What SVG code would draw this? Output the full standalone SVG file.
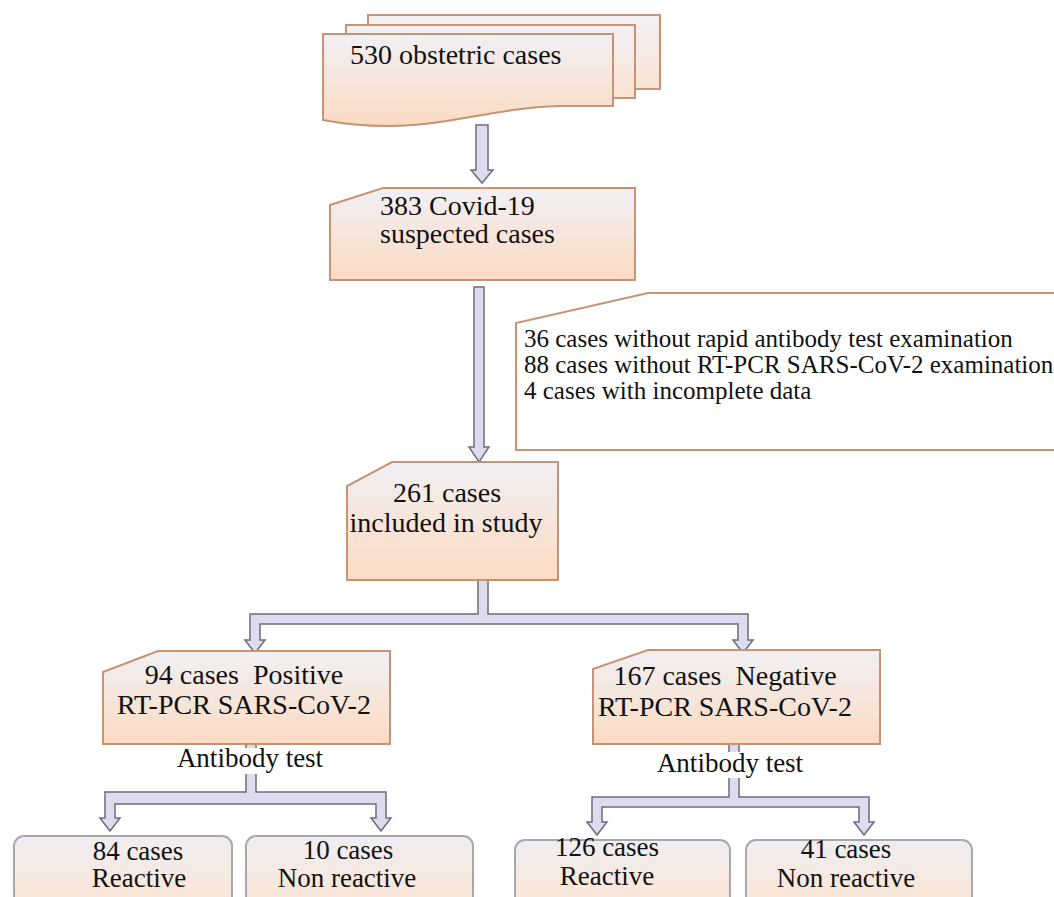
<svg xmlns="http://www.w3.org/2000/svg" width="1054" height="897" viewBox="0 0 1054 897">
<defs>
<linearGradient id="gNode" x1="0" y1="0" x2="0" y2="1">
<stop offset="0" stop-color="#f1f0f4"/>
<stop offset="1" stop-color="#fbdbc2"/>
</linearGradient>
<linearGradient id="gSheet" x1="0" y1="0" x2="0" y2="1">
<stop offset="0" stop-color="#f3f1f4"/>
<stop offset="1" stop-color="#fae3d3"/>
</linearGradient>
<linearGradient id="gLeaf" x1="0" y1="0" x2="0" y2="1">
<stop offset="0" stop-color="#efeef2"/>
<stop offset="1" stop-color="#fce5d3"/>
</linearGradient>
<linearGradient id="gArrow" x1="0" y1="0" x2="1" y2="0">
<stop offset="0" stop-color="#cfcfe6"/>
<stop offset="0.5" stop-color="#e6e6f4"/>
<stop offset="1" stop-color="#c4c4de"/>
</linearGradient>
</defs>
<style>
.node{fill:url(#gNode);stroke:#c69474;stroke-width:2}
.sheet{fill:url(#gSheet);stroke:#c69474;stroke-width:2}
.leaf{fill:url(#gLeaf);stroke:#a7a7b0;stroke-width:2}
.excl{fill:#ffffff;stroke:#c69474;stroke-width:2}
.arrow{fill:#dcdcee;stroke:#6c6c7c;stroke-width:1.5;stroke-linejoin:miter}
.t{font-family:"Liberation Serif","Times New Roman",serif;font-size:28px;fill:#111}
.ts{font-family:"Liberation Serif","Times New Roman",serif;font-size:25px;fill:#111}
.tb{font-family:"Liberation Serif","Times New Roman",serif;font-size:27px;fill:#111}
.c{text-anchor:middle}
</style>
<rect width="1054" height="897" fill="#ffffff"/>

<g id="connectors">
<path class="arrow" d="M476,125 H488 V170 H493 L482,183 L471,170 H476 Z"/>
<path class="arrow" d="M474,287 H484 V447 H489 L479,462 L469,447 H474 Z"/>
<path class="arrow" d="M478,580 H488 V614 H748 V640 H753 L743,653 L733,640 H738 V624 H260 V640 H265 L255,653 L245,640 H250 V614 H478 Z"/>
<path class="arrow" d="M246,744 H256 V792 H386 V818 H391 L381,831 L371,818 H376 V804 H115 V818 H120 L110,831 L100,818 H105 V792 H246 Z"/>
<path class="arrow" d="M729,744 H739 V797 H869 V822 H874 L864,835 L854,822 H859 V807 H602 V822 H607 L597,835 L587,822 H592 V797 H729 Z"/>
</g>

<g id="node-530">
<rect class="sheet" x="368" y="15" width="292" height="74"/>
<rect class="sheet" x="346" y="25" width="289" height="73"/>
<path class="node" d="M323,34 H613 V106 H560 C520,107 490,114 440,122 C400,128 360,127 323,120 Z"/>
<text class="t" x="350" y="64">530 obstetric cases</text>
</g>

<g id="node-383">
<path class="node" d="M383,188 H635 V280 H330 V205 Z"/>
<text class="t" x="380" y="215">383 Covid-19</text>
<text class="t" x="380" y="243">suspected cases</text>
</g>

<g id="node-excluded">
<path class="excl" d="M648,293 H1060 V450 H516 V323 Z"/>
<text class="ts" x="524" y="347">36 cases without rapid antibody test examination</text>
<text class="ts" x="524" y="373">88 cases without RT-PCR SARS-CoV-2 examination</text>
<text class="ts" x="524" y="399">4 cases with incomplete data</text>
</g>

<g id="node-261">
<path class="node" d="M392,462 H558 V580 H347 V486 Z"/>
<text class="t c" x="447" y="502">261 cases</text>
<text class="t c" x="446" y="532">included in study</text>
</g>

<g id="node-positive">
<path class="node" d="M158,651 H390 V744 H103 V672 Z"/>
<text class="t c" x="244" y="684" xml:space="preserve">94 cases  Positive</text>
<text class="t c" x="244" y="714">RT-PCR SARS-CoV-2</text>
</g>

<g id="node-negative">
<path class="node" d="M648,650 H880 V744 H593 V669 Z"/>
<text class="t c" x="725" y="685" xml:space="preserve">167 cases  Negative</text>
<text class="t c" x="725" y="716">RT-PCR SARS-CoV-2</text>
</g>

<g id="label-antibody-left">
<rect x="172" y="748" width="158" height="26" fill="#ffffff"/>
<text class="tb c" x="250" y="767">Antibody test</text>
</g>

<g id="label-antibody-right">
<rect x="651" y="752" width="158" height="26" fill="#ffffff"/>
<text class="tb c" x="730" y="772">Antibody test</text>
</g>

<g id="node-84">
<rect class="leaf" x="14" y="836" width="218" height="72" rx="10"/>
<text class="tb c" x="138" y="860">84 cases</text>
<text class="tb c" x="139" y="887">Reactive</text>
</g>

<g id="node-10">
<rect class="leaf" x="246" y="836" width="227" height="72" rx="10"/>
<text class="tb c" x="348" y="859">10 cases</text>
<text class="tb c" x="347" y="887">Non reactive</text>
</g>

<g id="node-126">
<rect class="leaf" x="515" y="840" width="215" height="68" rx="10"/>
<text class="tb c" x="607" y="856">126 cases</text>
<text class="tb c" x="607" y="885">Reactive</text>
</g>

<g id="node-41">
<rect class="leaf" x="746" y="840" width="226" height="68" rx="10"/>
<text class="tb c" x="846" y="858">41 cases</text>
<text class="tb c" x="846" y="887">Non reactive</text>
</g>
</svg>
